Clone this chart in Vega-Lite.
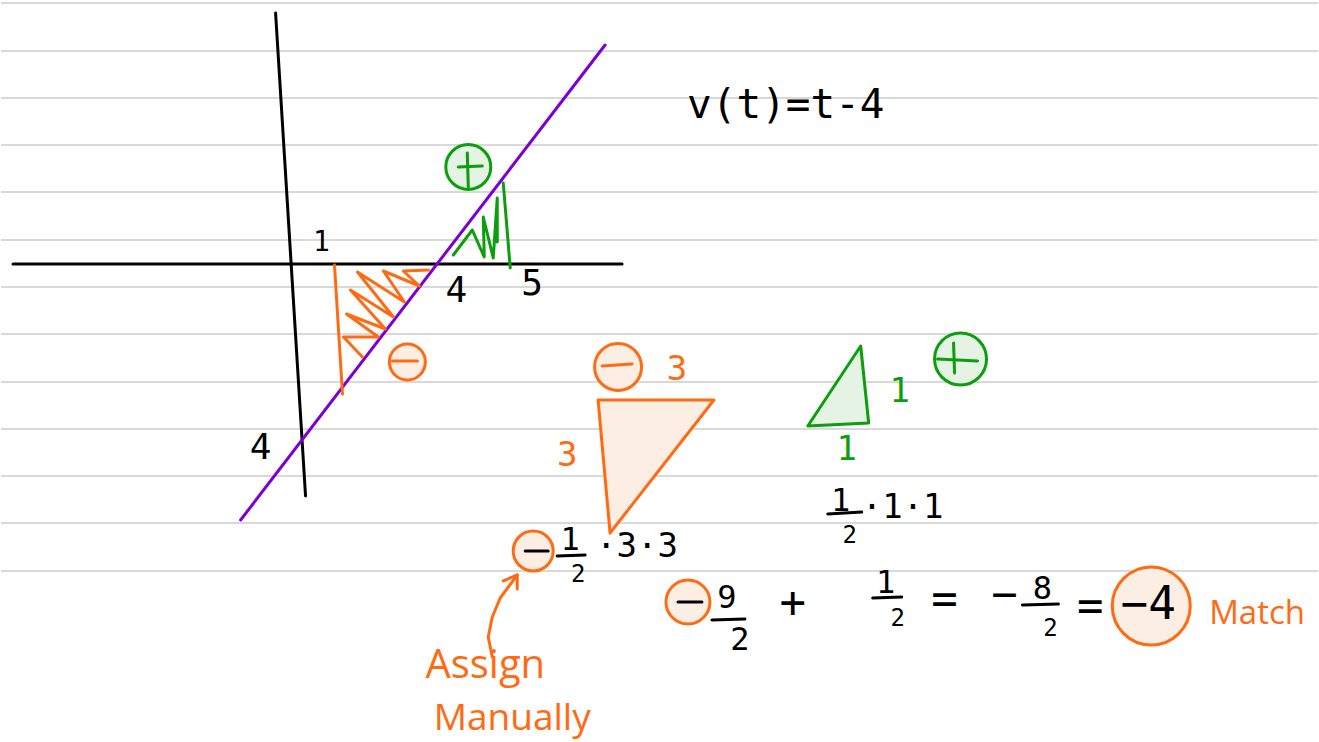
{
  "$schema": "https://vega.github.io/schema/vega-lite/v6.json",
  "width": 1319,
  "height": 742,
  "autosize": {"type": "fit", "contains": "padding"},
  "padding": 0,
  "background": "white",
  "config": {"view": {"stroke": null}},
  "resolve": {"scale": {"size": "independent"}},
  "datasets": {
    "ruled": [
      {"y": 3, "x0": 0, "x1": 1319}, {"y": 51, "x0": 0, "x1": 1319}, {"y": 98, "x0": 0, "x1": 1319},
      {"y": 145, "x0": 0, "x1": 1319}, {"y": 192, "x0": 0, "x1": 1319}, {"y": 240, "x0": 0, "x1": 1319},
      {"y": 287, "x0": 0, "x1": 1319}, {"y": 334, "x0": 0, "x1": 1319}, {"y": 382, "x0": 0, "x1": 1319},
      {"y": 429, "x0": 0, "x1": 1319}, {"y": 476, "x0": 0, "x1": 1319}, {"y": 523, "x0": 0, "x1": 1319},
      {"y": 571, "x0": 0, "x1": 1319}
    ],
    "fills": [
      {"shape": "otri", "x": 598, "yt": 400, "yb": 400},
      {"shape": "otri", "x": 610, "yt": 400, "yb": 533},
      {"shape": "otri", "x": 714, "yt": 400, "yb": 400},
      {"shape": "gtri", "x": 808, "yt": 426, "yb": 426},
      {"shape": "gtri", "x": 861, "yt": 346, "yb": 423.4},
      {"shape": "gtri", "x": 869, "yt": 423, "yb": 423}
    ],
    "circles": [
      {"name": "gplus1", "ink": "green", "x": 468, "y": 167},
      {"name": "ominus1", "ink": "orange", "x": 407, "y": 362},
      {"name": "ominus2", "ink": "orange", "x": 618, "y": 367},
      {"name": "gplus2", "ink": "green", "x": 961, "y": 359},
      {"name": "ominus3", "ink": "orange", "x": 533, "y": 551},
      {"name": "ominus4", "ink": "orange", "x": 688, "y": 602},
      {"name": "answer", "ink": "orange", "x": 1152, "y": 606}
    ],
    "strokes": [
      {"id": "vaxis", "ink": "black", "i": 0, "x": 275, "y": 13},
      {"id": "vaxis", "ink": "black", "i": 1, "x": 305, "y": 496},
      {"id": "haxis", "ink": "black", "i": 0, "x": 12, "y": 264},
      {"id": "haxis", "ink": "black", "i": 1, "x": 622, "y": 264},
      {"id": "vline", "ink": "purple", "i": 0, "x": 240, "y": 520},
      {"id": "vline", "ink": "purple", "i": 1, "x": 605, "y": 45},
      {"id": "oedge", "ink": "orange", "i": 0, "x": 334, "y": 265},
      {"id": "oedge", "ink": "orange", "i": 1, "x": 342, "y": 394},
      {"id": "ozig", "ink": "orange", "i": 0, "x": 428, "y": 270},
      {"id": "ozig", "ink": "orange", "i": 1, "x": 403, "y": 271},
      {"id": "ozig", "ink": "orange", "i": 2, "x": 419, "y": 286},
      {"id": "ozig", "ink": "orange", "i": 3, "x": 383, "y": 271},
      {"id": "ozig", "ink": "orange", "i": 4, "x": 404, "y": 302},
      {"id": "ozig", "ink": "orange", "i": 5, "x": 357, "y": 272},
      {"id": "ozig", "ink": "orange", "i": 6, "x": 393, "y": 317},
      {"id": "ozig", "ink": "orange", "i": 7, "x": 350, "y": 290},
      {"id": "ozig", "ink": "orange", "i": 8, "x": 385, "y": 329},
      {"id": "ozig", "ink": "orange", "i": 9, "x": 346, "y": 314},
      {"id": "ozig", "ink": "orange", "i": 10, "x": 378, "y": 337},
      {"id": "ozig", "ink": "orange", "i": 11, "x": 343, "y": 337},
      {"id": "ozig", "ink": "orange", "i": 12, "x": 362, "y": 357},
      {"id": "gzig", "ink": "green", "i": 0, "x": 453, "y": 255},
      {"id": "gzig", "ink": "green", "i": 1, "x": 472, "y": 230},
      {"id": "gzig", "ink": "green", "i": 2, "x": 484, "y": 257},
      {"id": "gzig", "ink": "green", "i": 3, "x": 483, "y": 217},
      {"id": "gzig", "ink": "green", "i": 4, "x": 493, "y": 258},
      {"id": "gzig", "ink": "green", "i": 5, "x": 497, "y": 198},
      {"id": "gzig", "ink": "green", "i": 6, "x": 497, "y": 242},
      {"id": "gedge", "ink": "green", "i": 0, "x": 503, "y": 183},
      {"id": "gedge", "ink": "green", "i": 1, "x": 510, "y": 268},
      {"id": "otri", "ink": "orange", "i": 0, "x": 598, "y": 400},
      {"id": "otri", "ink": "orange", "i": 1, "x": 714, "y": 400},
      {"id": "otri", "ink": "orange", "i": 2, "x": 610, "y": 533},
      {"id": "otri", "ink": "orange", "i": 3, "x": 598, "y": 400},
      {"id": "gtri", "ink": "green", "i": 0, "x": 861, "y": 346},
      {"id": "gtri", "ink": "green", "i": 1, "x": 869, "y": 423},
      {"id": "gtri", "ink": "green", "i": 2, "x": 808, "y": 426},
      {"id": "gtri", "ink": "green", "i": 3, "x": 861, "y": 346},
      {"id": "m1", "ink": "orange", "i": 0, "x": 392, "y": 361},
      {"id": "m1", "ink": "orange", "i": 1, "x": 417, "y": 361},
      {"id": "m2", "ink": "orange", "i": 0, "x": 602, "y": 366},
      {"id": "m2", "ink": "orange", "i": 1, "x": 632, "y": 364},
      {"id": "m3", "ink": "black", "i": 0, "x": 525, "y": 551},
      {"id": "m3", "ink": "black", "i": 1, "x": 548, "y": 551},
      {"id": "m4", "ink": "black", "i": 0, "x": 678, "y": 602},
      {"id": "m4", "ink": "black", "i": 1, "x": 702, "y": 602},
      {"id": "p1h", "ink": "green", "i": 0, "x": 458, "y": 167},
      {"id": "p1h", "ink": "green", "i": 1, "x": 482, "y": 166},
      {"id": "p1v", "ink": "green", "i": 0, "x": 467, "y": 153},
      {"id": "p1v", "ink": "green", "i": 1, "x": 468, "y": 187},
      {"id": "p2h", "ink": "green", "i": 0, "x": 938, "y": 359},
      {"id": "p2h", "ink": "green", "i": 1, "x": 978, "y": 361},
      {"id": "p2v", "ink": "green", "i": 0, "x": 954, "y": 343},
      {"id": "p2v", "ink": "green", "i": 1, "x": 955, "y": 373},
      {"id": "arrow", "ink": "orange", "i": 0, "x": 492, "y": 657},
      {"id": "arrow", "ink": "orange", "i": 1, "x": 488, "y": 637},
      {"id": "arrow", "ink": "orange", "i": 2, "x": 492, "y": 617},
      {"id": "arrow", "ink": "orange", "i": 3, "x": 500, "y": 598},
      {"id": "arrow", "ink": "orange", "i": 4, "x": 517, "y": 575},
      {"id": "ahead", "ink": "orange", "i": 0, "x": 503, "y": 581},
      {"id": "ahead", "ink": "orange", "i": 1, "x": 517, "y": 575},
      {"id": "ahead", "ink": "orange", "i": 2, "x": 517, "y": 589},
      {"id": "b1", "ink": "black", "i": 0, "x": 557, "y": 556},
      {"id": "b1", "ink": "black", "i": 1, "x": 585, "y": 555},
      {"id": "b2", "ink": "black", "i": 0, "x": 828, "y": 514},
      {"id": "b2", "ink": "black", "i": 1, "x": 862, "y": 512},
      {"id": "b3", "ink": "black", "i": 0, "x": 712, "y": 620},
      {"id": "b3", "ink": "black", "i": 1, "x": 745, "y": 619},
      {"id": "b4", "ink": "black", "i": 0, "x": 873, "y": 598},
      {"id": "b4", "ink": "black", "i": 1, "x": 902, "y": 597},
      {"id": "b5", "ink": "black", "i": 0, "x": 1023, "y": 605},
      {"id": "b5", "ink": "black", "i": 1, "x": 1059, "y": 604}
    ],
    "texts": [
      {"text": "v(t)=t-4", "x": 786, "y": 106, "role": "formula", "ink": "black"},
      {"text": "1", "x": 321, "y": 243, "role": "tick", "ink": "black"},
      {"text": "4", "x": 456, "y": 291, "role": "axis", "ink": "black"},
      {"text": "5", "x": 532, "y": 284, "role": "axis", "ink": "black"},
      {"text": "4", "x": 260, "y": 448, "role": "axis", "ink": "black"},
      {"text": "3", "x": 677, "y": 370, "role": "side", "ink": "orange"},
      {"text": "3", "x": 567, "y": 456, "role": "side", "ink": "orange"},
      {"text": "1", "x": 900, "y": 392, "role": "side", "ink": "green"},
      {"text": "1", "x": 847, "y": 450, "role": "side", "ink": "green"},
      {"text": "1", "x": 841, "y": 501, "role": "num", "ink": "black"},
      {"text": "2", "x": 850, "y": 536, "role": "den", "ink": "black"},
      {"text": "·1·1", "x": 903, "y": 508, "role": "prod", "ink": "black"},
      {"text": "1", "x": 570, "y": 540, "role": "num", "ink": "black"},
      {"text": "2", "x": 578, "y": 575, "role": "den", "ink": "black"},
      {"text": "·3·3", "x": 637, "y": 547, "role": "prod", "ink": "black"},
      {"text": "9", "x": 727, "y": 598, "role": "num", "ink": "black"},
      {"text": "2", "x": 740, "y": 640, "role": "num", "ink": "black"},
      {"text": "+", "x": 793, "y": 604, "role": "op", "ink": "black"},
      {"text": "1", "x": 886, "y": 583, "role": "num", "ink": "black"},
      {"text": "2", "x": 898, "y": 619, "role": "den", "ink": "black"},
      {"text": "=", "x": 945, "y": 601, "role": "op", "ink": "black"},
      {"text": "−", "x": 1005, "y": 596, "role": "op", "ink": "black"},
      {"text": "8", "x": 1043, "y": 589, "role": "num", "ink": "black"},
      {"text": "2", "x": 1051, "y": 629, "role": "den", "ink": "black"},
      {"text": "=", "x": 1091, "y": 608, "role": "op", "ink": "black"},
      {"text": "−4", "x": 1149, "y": 605, "role": "answer", "ink": "black"}
    ],
    "words": [
      {"text": "Assign", "x": 485, "y": 678, "role": "assign", "ink": "orange"},
      {"text": "Manually", "x": 512, "y": 730, "role": "manual", "ink": "orange"},
      {"text": "Match", "x": 1258, "y": 624, "role": "note", "ink": "orange"}
    ]
  },
  "layer": [
    {
      "data": {"name": "ruled"},
      "mark": {"type": "rule", "stroke": "#d9d9d9", "strokeWidth": 2},
      "encoding": {
        "x": {"field": "x0", "type": "quantitative", "scale": {"domain": [0, 1319], "nice": false, "zero": false}, "axis": null},
        "x2": {"field": "x1"},
        "y": {"field": "y", "type": "quantitative", "scale": {"domain": [0, 742], "nice": false, "zero": false, "reverse": true}, "axis": null}
      }
    },
    {
      "data": {"name": "fills"},
      "transform": [{"filter": "datum.shape === 'otri'"}],
      "mark": {"type": "area", "orient": "vertical", "fill": "#fdeee4", "opacity": 1, "interpolate": "linear"},
      "encoding": {
        "x": {"field": "x", "type": "quantitative", "scale": {"domain": [0, 1319], "nice": false, "zero": false}, "axis": null},
        "y": {"field": "yt", "type": "quantitative", "scale": {"domain": [0, 742], "nice": false, "zero": false, "reverse": true}, "axis": null},
        "y2": {"field": "yb"}
      }
    },
    {
      "data": {"name": "fills"},
      "transform": [{"filter": "datum.shape === 'gtri'"}],
      "mark": {"type": "area", "orient": "vertical", "fill": "#e4f3e4", "opacity": 1, "interpolate": "linear"},
      "encoding": {
        "x": {"field": "x", "type": "quantitative", "scale": {"domain": [0, 1319], "nice": false, "zero": false}, "axis": null},
        "y": {"field": "yt", "type": "quantitative", "scale": {"domain": [0, 742], "nice": false, "zero": false, "reverse": true}, "axis": null},
        "y2": {"field": "yb"}
      }
    },
    {
      "data": {"name": "circles"},
      "mark": {"type": "point", "shape": "circle", "filled": true, "strokeWidth": 3, "opacity": 1, "fillOpacity": 1, "strokeOpacity": 1},
      "encoding": {
        "x": {"field": "x", "type": "quantitative", "scale": {"domain": [0, 1319], "nice": false, "zero": false}, "axis": null},
        "y": {"field": "y", "type": "quantitative", "scale": {"domain": [0, 742], "nice": false, "zero": false, "reverse": true}, "axis": null},
        "fill": {"field": "ink", "type": "nominal", "scale": {"domain": ["orange", "green"], "range": ["#fdeee4", "#e4f3e4"]}, "legend": null},
        "stroke": {"field": "ink", "type": "nominal", "scale": {"domain": ["orange", "green"], "range": ["#ff6a13", "#0c9e0c"]}, "legend": null},
        "size": {"field": "name", "type": "ordinal", "scale": {"type": "ordinal", "domain": ["gplus1", "ominus1", "ominus2", "gplus2", "ominus3", "ominus4", "answer"], "range": [2025, 1296, 2209, 2704, 1600, 1936, 6084]}, "legend": null}
      }
    },
    {
      "data": {"name": "strokes"},
      "mark": {"type": "line", "strokeWidth": 3, "strokeCap": "round", "strokeJoin": "round"},
      "encoding": {
        "x": {"field": "x", "type": "quantitative", "scale": {"domain": [0, 1319], "nice": false, "zero": false}, "axis": null},
        "y": {"field": "y", "type": "quantitative", "scale": {"domain": [0, 742], "nice": false, "zero": false, "reverse": true}, "axis": null},
        "detail": {"field": "id"},
        "order": {"field": "i", "type": "quantitative"},
        "color": {"field": "ink", "type": "nominal", "scale": {"domain": ["black", "purple", "orange", "green"], "range": ["#000000", "#7a00d6", "#ff6a13", "#0c9e0c"]}, "legend": null}
      }
    },
    {
      "data": {"name": "texts"},
      "mark": {"type": "text", "font": "DejaVu Sans Mono", "align": "center", "baseline": "middle"},
      "encoding": {
        "x": {"field": "x", "type": "quantitative", "scale": {"domain": [0, 1319], "nice": false, "zero": false}, "axis": null},
        "y": {"field": "y", "type": "quantitative", "scale": {"domain": [0, 742], "nice": false, "zero": false, "reverse": true}, "axis": null},
        "text": {"field": "text"},
        "color": {"field": "ink", "type": "nominal", "scale": {"domain": ["black", "purple", "orange", "green"], "range": ["#000000", "#7a00d6", "#ff6a13", "#0c9e0c"]}, "legend": null},
        "size": {"field": "role", "type": "ordinal", "scale": {"type": "ordinal", "domain": ["formula", "tick", "axis", "side", "num", "den", "prod", "op", "answer"], "range": [41, 28, 36, 34, 32, 24, 34, 44, 46]}, "legend": null}
      }
    },
    {
      "data": {"name": "words"},
      "mark": {"type": "text", "font": "Open Sans", "align": "center", "baseline": "alphabetic"},
      "encoding": {
        "x": {"field": "x", "type": "quantitative", "scale": {"domain": [0, 1319], "nice": false, "zero": false}, "axis": null},
        "y": {"field": "y", "type": "quantitative", "scale": {"domain": [0, 742], "nice": false, "zero": false, "reverse": true}, "axis": null},
        "text": {"field": "text"},
        "color": {"field": "ink", "type": "nominal", "scale": {"domain": ["black", "purple", "orange", "green"], "range": ["#000000", "#7a00d6", "#ff6a13", "#0c9e0c"]}, "legend": null},
        "size": {"field": "role", "type": "ordinal", "scale": {"type": "ordinal", "domain": ["assign", "manual", "note"], "range": [40, 37, 33]}, "legend": null}
      }
    }
  ]
}
